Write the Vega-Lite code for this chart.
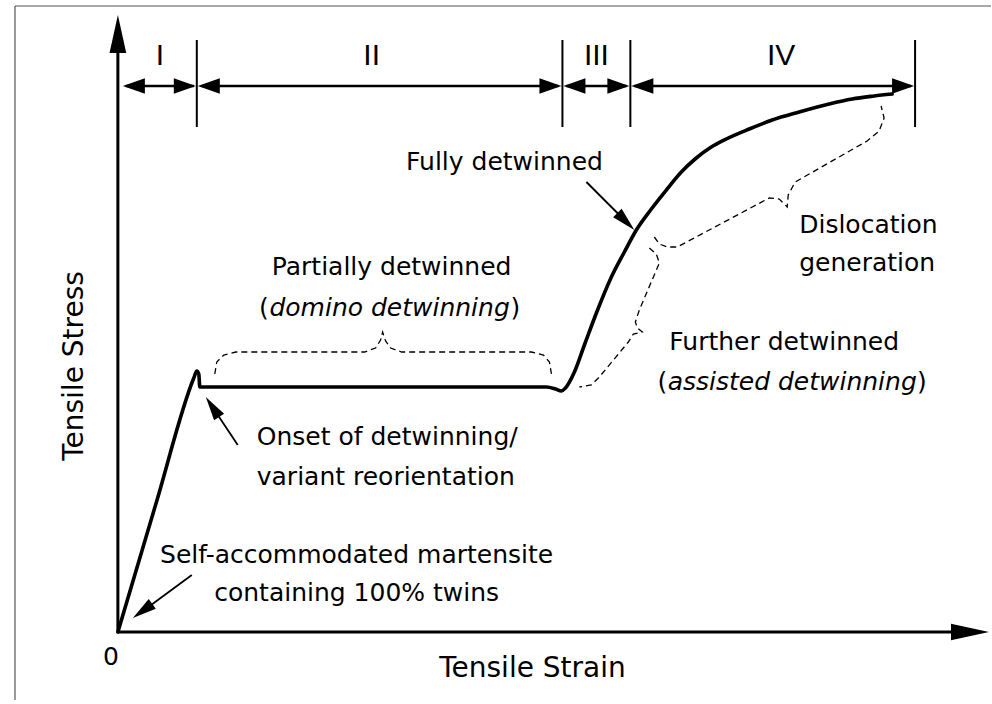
{
  "$schema": "https://vega.github.io/schema/vega-lite/v6.json",
  "width": 992,
  "height": 704,
  "padding": 0,
  "autosize": {"type": "fit", "contains": "padding"},
  "background": "white",
  "config": {"view": {"stroke": null}, "font": "DejaVu Sans"},
  "datasets": {
    "frame": [
      {"x": -103, "y": 626, "x2": -103, "y2": -68},
      {"x": -103, "y": 626, "x2": 874, "y2": 626}
    ],
    "axes": [
      {"x": 0, "y": 0, "x2": 0, "y2": 596},
      {"x": 0, "y": 0, "x2": 840, "y2": 0}
    ],
    "ticks": [
      {"x": 79, "y": 592, "x2": 79, "y2": 505},
      {"x": 445, "y": 592, "x2": 445, "y2": 505},
      {"x": 513, "y": 592, "x2": 513, "y2": 505},
      {"x": 798, "y": 592, "x2": 798, "y2": 505}
    ],
    "spans": [
      {"x": 8, "y": 546, "x2": 76, "y2": 546},
      {"x": 84, "y": 546, "x2": 441, "y2": 546},
      {"x": 449, "y": 546, "x2": 509, "y2": 546},
      {"x": 517, "y": 546, "x2": 794, "y2": 546}
    ],
    "spanHeads": [
      {"x": 5, "y": 546, "ang": 180},
      {"x": 78, "y": 546, "ang": 0},
      {"x": 80, "y": 546, "ang": 180},
      {"x": 444, "y": 546, "ang": 0},
      {"x": 446, "y": 546, "ang": 180},
      {"x": 512, "y": 546, "ang": 0},
      {"x": 514, "y": 546, "ang": 180},
      {"x": 797, "y": 546, "ang": 0}
    ],
    "bigHeads": [
      {"x": 0, "y": 617, "ang": 270},
      {"x": 872, "y": 0, "ang": 0}
    ],
    "pointers": [
      {"x": 120, "y": 187, "x2": 92, "y2": 229},
      {"x": 469, "y": 450, "x2": 512, "y2": 407},
      {"x": 74, "y": 57, "x2": 21, "y2": 18}
    ],
    "pointerHeads": [
      {"x": 88, "y": 235, "ang": 236.3},
      {"x": 517, "y": 402, "ang": 45},
      {"x": 15, "y": 14, "ang": 143.9}
    ],
    "curve": [
      {"x": 0, "y": 0}, {"x": 38, "y": 128}, {"x": 76, "y": 254}, {"x": 79, "y": 261},
      {"x": 81, "y": 258}, {"x": 82, "y": 245},
      {"x": 429, "y": 245}, {"x": 438, "y": 243}, {"x": 444, "y": 241}, {"x": 448, "y": 244},
      {"x": 457, "y": 260}, {"x": 467, "y": 287}, {"x": 479, "y": 319}, {"x": 494, "y": 355},
      {"x": 507, "y": 380}, {"x": 519, "y": 402}, {"x": 534, "y": 423}, {"x": 549, "y": 442},
      {"x": 564, "y": 460}, {"x": 579, "y": 474}, {"x": 594, "y": 485}, {"x": 609, "y": 493},
      {"x": 632, "y": 503}, {"x": 655, "y": 512}, {"x": 682, "y": 520}, {"x": 712, "y": 528},
      {"x": 735, "y": 533}, {"x": 757, "y": 536}, {"x": 775, "y": 538}
    ],
    "braces": [
      {"b": "domino", "i": 1, "x": 97, "y": 258}, {"b": "domino", "i": 2, "x": 99, "y": 270},
      {"b": "domino", "i": 3, "x": 106, "y": 277}, {"b": "domino", "i": 4, "x": 118, "y": 280},
      {"b": "domino", "i": 5, "x": 247, "y": 280}, {"b": "domino", "i": 6, "x": 258, "y": 284},
      {"b": "domino", "i": 7, "x": 263, "y": 292}, {"b": "domino", "i": 8, "x": 265, "y": 300},
      {"b": "domino", "i": 9, "x": 268, "y": 291}, {"b": "domino", "i": 10, "x": 273, "y": 284},
      {"b": "domino", "i": 11, "x": 284, "y": 280}, {"b": "domino", "i": 12, "x": 414, "y": 280},
      {"b": "domino", "i": 13, "x": 426, "y": 277}, {"b": "domino", "i": 14, "x": 432, "y": 270},
      {"b": "domino", "i": 15, "x": 434, "y": 258},
      {"b": "dislocation", "i": 1, "x": 537, "y": 395}, {"b": "dislocation", "i": 2, "x": 542, "y": 388},
      {"b": "dislocation", "i": 3, "x": 550, "y": 385}, {"b": "dislocation", "i": 4, "x": 560, "y": 385},
      {"b": "dislocation", "i": 5, "x": 652, "y": 434}, {"b": "dislocation", "i": 6, "x": 662, "y": 433},
      {"b": "dislocation", "i": 7, "x": 670, "y": 425}, {"b": "dislocation", "i": 8, "x": 671, "y": 437},
      {"b": "dislocation", "i": 9, "x": 678, "y": 450}, {"b": "dislocation", "i": 10, "x": 750, "y": 491},
      {"b": "dislocation", "i": 11, "x": 762, "y": 501}, {"b": "dislocation", "i": 12, "x": 767, "y": 514},
      {"b": "dislocation", "i": 13, "x": 764, "y": 526},
      {"b": "further", "i": 1, "x": 532, "y": 384}, {"b": "further", "i": 2, "x": 539, "y": 378},
      {"b": "further", "i": 3, "x": 542, "y": 369}, {"b": "further", "i": 4, "x": 522, "y": 322},
      {"b": "further", "i": 5, "x": 518, "y": 310}, {"b": "further", "i": 6, "x": 520, "y": 304},
      {"b": "further", "i": 7, "x": 525, "y": 300}, {"b": "further", "i": 8, "x": 516, "y": 298},
      {"b": "further", "i": 9, "x": 511, "y": 290}, {"b": "further", "i": 10, "x": 482, "y": 255},
      {"b": "further", "i": 11, "x": 474, "y": 247}, {"b": "further", "i": 12, "x": 462, "y": 245}
    ],
    "numerals": [
      {"t": "I", "x": 42, "y": 576}, {"t": "II", "x": 254, "y": 576},
      {"t": "III", "x": 479, "y": 576}, {"t": "IV", "x": 664, "y": 576}
    ],
    "titleX": [{"t": "Tensile Strain", "x": 415, "y": -37}],
    "titleY": [{"t": "Tensile Stress", "x": -43, "y": 266}],
    "notesCenter": [
      {"t": "Partially detwinned", "x": 274, "y": 365},
      {"t": "Fully detwinned", "x": 387, "y": 470},
      {"t": "Self-accommodated martensite", "x": 239, "y": 77},
      {"t": "containing 100% twins", "x": 239, "y": 39},
      {"t": "0", "x": -7, "y": -25}
    ],
    "notesLeft": [
      {"t": "Onset of detwinning/", "x": 139, "y": 195},
      {"t": "variant reorientation", "x": 139, "y": 155},
      {"t": "Dislocation", "x": 682, "y": 407},
      {"t": "generation", "x": 682, "y": 369},
      {"t": "Further detwinned", "x": 552, "y": 290}
    ],
    "italics": [
      {"t": "domino detwinning", "x": 272, "y": 324},
      {"t": "assisted detwinning", "x": 675, "y": 250}
    ],
    "parenOpen": [{"t": "(", "x": 151, "y": 324}, {"t": "(", "x": 550, "y": 250}],
    "parenClose": [{"t": ")", "x": 393, "y": 324}, {"t": ")", "x": 800, "y": 250}]
  },
  "encoding": {
    "x": {"field": "x", "type": "quantitative", "scale": {"domain": [-118, 874], "nice": false, "zero": false}, "axis": null},
    "y": {"field": "y", "type": "quantitative", "scale": {"domain": [-72, 632], "nice": false, "zero": false}, "axis": null}
  },
  "layer": [
    {"data": {"name": "frame"}, "mark": {"type": "rule", "color": "#555", "strokeWidth": 1.2},
     "encoding": {"x2": {"field": "x2"}, "y2": {"field": "y2"}}},
    {"data": {"name": "axes"}, "mark": {"type": "rule", "color": "black", "strokeWidth": 3},
     "encoding": {"x2": {"field": "x2"}, "y2": {"field": "y2"}}},
    {"data": {"name": "ticks"}, "mark": {"type": "rule", "color": "black", "strokeWidth": 2},
     "encoding": {"x2": {"field": "x2"}, "y2": {"field": "y2"}}},
    {"data": {"name": "spans"}, "mark": {"type": "rule", "color": "black", "strokeWidth": 2.4},
     "encoding": {"x2": {"field": "x2"}, "y2": {"field": "y2"}}},
    {"data": {"name": "pointers"}, "mark": {"type": "rule", "color": "black", "strokeWidth": 1.8},
     "encoding": {"x2": {"field": "x2"}, "y2": {"field": "y2"}}},
    {"data": {"name": "curve"}, "mark": {"type": "line", "color": "black", "strokeWidth": 3.6, "strokeJoin": "round", "strokeCap": "round", "interpolate": "monotone"},
     "encoding": {}},
    {"data": {"name": "braces"}, "mark": {"type": "line", "color": "black", "strokeWidth": 1.3, "strokeDash": [6, 4]},
     "encoding": {"detail": {"field": "b"}, "order": {"field": "i", "type": "quantitative"}}},
    {"data": {"name": "spanHeads"}, "mark": {"type": "point", "shape": "M0,0L-2,-0.7L-2,0.7Z", "filled": true, "color": "black", "opacity": 1, "size": 484},
     "encoding": {"angle": {"field": "ang", "type": "quantitative", "scale": null}}},
    {"data": {"name": "bigHeads"}, "mark": {"type": "point", "shape": "M0,0L-2,-0.44L-2,0.44Z", "filled": true, "color": "black", "opacity": 1, "size": 1444},
     "encoding": {"angle": {"field": "ang", "type": "quantitative", "scale": null}}},
    {"data": {"name": "pointerHeads"}, "mark": {"type": "point", "shape": "M0,0L-2,-0.5L-2,0.5Z", "filled": true, "color": "black", "opacity": 1, "size": 576},
     "encoding": {"angle": {"field": "ang", "type": "quantitative", "scale": null}}},
    {"data": {"name": "numerals"}, "mark": {"type": "text", "font": "Liberation Sans", "fontSize": 30, "align": "center", "baseline": "middle", "color": "black"},
     "encoding": {"text": {"field": "t"}}},
    {"data": {"name": "titleX"}, "mark": {"type": "text", "font": "DejaVu Sans", "fontSize": 28, "align": "center", "baseline": "middle", "color": "black"},
     "encoding": {"text": {"field": "t"}}},
    {"data": {"name": "titleY"}, "mark": {"type": "text", "font": "DejaVu Sans", "fontSize": 28, "align": "center", "baseline": "middle", "angle": 270, "color": "black"},
     "encoding": {"text": {"field": "t"}}},
    {"data": {"name": "notesCenter"}, "mark": {"type": "text", "font": "DejaVu Sans", "fontSize": 25, "align": "center", "baseline": "middle", "color": "black"},
     "encoding": {"text": {"field": "t"}}},
    {"data": {"name": "notesLeft"}, "mark": {"type": "text", "font": "DejaVu Sans", "fontSize": 25, "align": "left", "baseline": "middle", "color": "black"},
     "encoding": {"text": {"field": "t"}}},
    {"data": {"name": "italics"}, "mark": {"type": "text", "font": "DejaVu Sans", "fontSize": 25, "fontStyle": "italic", "align": "center", "baseline": "middle", "color": "black"},
     "encoding": {"text": {"field": "t"}}},
    {"data": {"name": "parenOpen"}, "mark": {"type": "text", "font": "DejaVu Sans", "fontSize": 25, "align": "right", "baseline": "middle", "color": "black"},
     "encoding": {"text": {"field": "t"}}},
    {"data": {"name": "parenClose"}, "mark": {"type": "text", "font": "DejaVu Sans", "fontSize": 25, "align": "left", "baseline": "middle", "color": "black"},
     "encoding": {"text": {"field": "t"}}}
  ]
}
